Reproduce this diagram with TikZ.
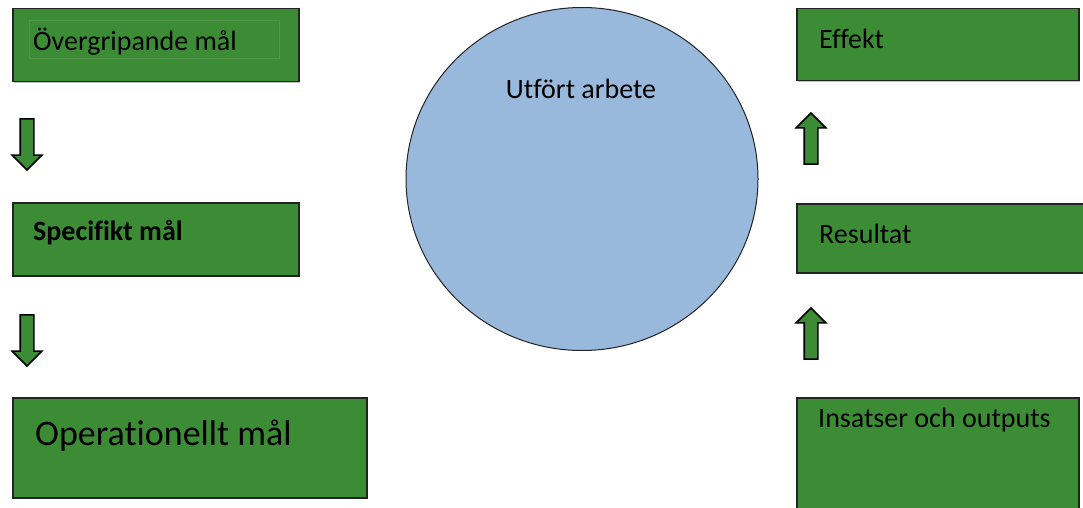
\documentclass[tikz,border=0pt]{standalone}
\usepackage{fontspec}
\setmainfont{Carlito}[Ligatures=CommonOff]
\usetikzlibrary{shapes.geometric,shapes.arrows,shadows,calc,positioning}

\definecolor{boxgreen}{RGB}{60,140,53}
\definecolor{circleblue}{RGB}{152,185,219}
\definecolor{edgegray}{RGB}{35,35,35}

\begin{document}
\begin{tikzpicture}[x=1pt,y=-1pt,
  every node/.style={align=left,font=\fontsize{28}{32}\selectfont},
  malbox/.style={draw=edgegray,line width=1.5pt,fill=boxgreen,anchor=north west,inner sep=0pt,
    drop shadow={shadow xshift=1.5pt,shadow yshift=-1.5pt,fill=black!40,opacity=.6}},
  pil/.style={single arrow,draw=black,line width=1.6pt,fill=boxgreen,inner sep=6pt,
    minimum height=51pt,single arrow head extend=8pt,single arrow tip angle=90}]
\clip (0,0) rectangle (1083,508);
\fill [white] (0,0) rectangle (1083,508);

% vänster kolumn
\node [malbox,minimum width=286pt,minimum height=73pt] (Overgripande) at (12,8) {};
\draw [boxgreen!90!white,line width=.5pt] (29,20) rectangle (279,58);
\node [anchor=west,inner sep=0pt] (OvergripandeText) at ($(Overgripande.west)+(21,-4)$) {Övergripande mål};
\node [pil,shape border rotate=270] (PilNed1) at (27,141) {};

\node [malbox,minimum width=286pt,minimum height=73pt] (Specifikt) at (12,202) {};
\node [anchor=west,inner sep=0pt,font=\fontsize{28}{32}\selectfont\bfseries] (SpecifiktText) at ($(Specifikt.west)+(21,-7)$) {Specifikt mål};
\node [pil,shape border rotate=270] (PilNed2) at (27,337) {};

\node [malbox,minimum width=354pt,minimum height=100pt] (Operationellt) at (12,397) {};
\node [anchor=west,inner sep=0pt,font=\fontsize{36}{40}\selectfont] (OperationelltText) at ($(Operationellt.north west)+(23,39)$) {Operationellt mål};

% cirkeln
\node [ellipse,draw=edgegray,line width=1pt,fill=circleblue,minimum width=352pt,minimum height=343pt,inner sep=0pt] (Arbete) at (582,179) {};
\node [inner sep=0pt] (ArbeteText) at (581,89) {Utfört arbete};

% höger kolumn
\node [malbox,minimum width=282pt,minimum height=72pt] (Effekt) at (796,8) {};
\node [anchor=west,inner sep=0pt] (EffektText) at ($(Effekt.west)+(23,-6)$) {Effekt};
\node [pil,shape border rotate=90] (PilUpp1) at (811,142) {};

\node [malbox,minimum width=300pt,minimum height=69pt] (Resultat) at (796,203) {};
\node [anchor=west,inner sep=0pt] (ResultatText) at ($(Resultat.west)+(23,-4)$) {Resultat};
\node [pil,shape border rotate=90] (PilUpp2) at (811,337) {};

\node [malbox,minimum width=282pt,minimum height=130pt] (Insatser) at (796,397) {};
\node [anchor=west,inner sep=0pt] (InsatserText) at ($(Insatser.north west)+(22,23)$) {Insatser och outputs};
\end{tikzpicture}
\end{document}
